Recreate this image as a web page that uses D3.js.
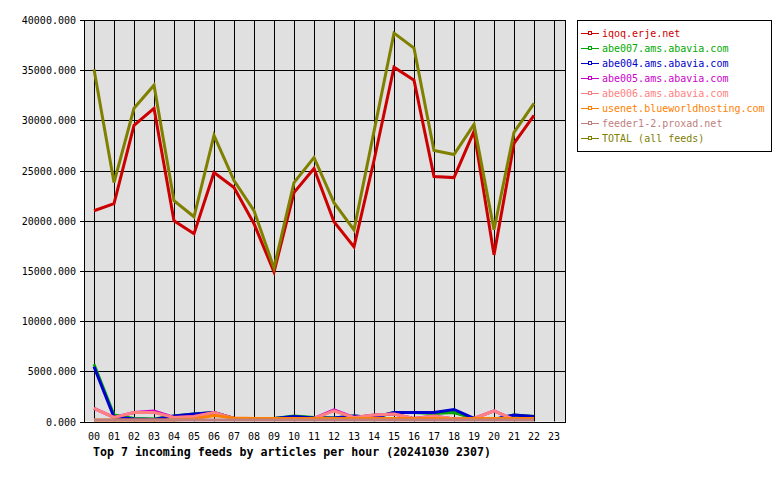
<!DOCTYPE html>
<html><head><meta charset="utf-8">
<script src="https://cdn.jsdelivr.net/npm/d3@7"></script>
<style>body{margin:0;background:#fff}svg{display:block}text{font-family:"DejaVu Sans Mono",monospace}</style>
</head><body><svg id="c" width="780" height="480"></svg>
<script>
const hours = ["00","01","02","03","04","05","06","07","08","09","10","11","12","13","14","15","16","17","18","19","20","21","22","23"];
const yTicks = [0,5000,10000,15000,20000,25000,30000,35000,40000];
const feedNames = ["iqoq.erje.net","abe007.ams.abavia.com","abe004.ams.abavia.com","abe005.ams.abavia.com","abe006.ams.abavia.com","usenet.blueworldhosting.com","feeder1-2.proxad.net","TOTAL (all feeds)"];
const feedColors = ["#cc0000","#00aa00","#0000cc","#cc00cc","#ff8080","#ff8000","#c08080","#808000"];
const iqoq   = [21000,21700,29500,31200,20000,18700,24800,23300,19700,14900,22800,25200,19900,17400,26000,35300,34000,24400,24300,28900,16600,27700,30500];
const abe007 = [5700,650,300,250,550,750,900,300,300,300,550,400,350,550,400,900,900,800,900,300,200,650,500];
const abe004 = [5450,450,250,200,550,750,900,300,300,300,500,350,350,550,400,900,900,900,1200,300,200,650,500];
const abe005 = [1300,400,900,1050,400,500,900,300,300,300,300,300,1150,400,650,750,300,550,250,300,1050,200,200];
const abe006 = [1300,400,900,900,400,500,900,300,300,300,300,300,1050,400,650,750,300,550,250,300,1050,200,200];
const usenet = [150,150,150,150,150,250,600,350,300,300,300,300,300,300,300,300,300,300,250,300,300,300,300];
const feeder = [150,150,150,150,150,150,150,150,150,150,150,150,150,150,150,150,150,150,150,150,150,150,150];
const total  = [35100,23800,31200,33500,22000,20400,28500,24000,21000,15300,23800,26300,21800,19100,28900,38700,37200,27000,26600,29600,19100,28800,31700];
const seriesValues = [iqoq,abe007,abe004,abe005,abe006,usenet,feeder,total];
const title = "Top 7 incoming feeds by articles per hour (20241030 2307)";

const svg = d3.select("#c");
const L=84,R=566,T=20,B=421.5;
const x = d3.scaleLinear().domain([-0.5,23.6]).range([L,R]);
const y = d3.scaleLinear().domain([0,40000]).range([B,T]);

svg.append("rect").attr("x",L).attr("y",T).attr("width",R-L).attr("height",B-T).attr("fill","#e0e0e0");

const g = svg.append("g");
g.selectAll(".hg").data(yTicks).join("line")
 .attr("x1",L-4).attr("x2",R).attr("y1",d=>Math.round(y(d))+0.5).attr("y2",d=>Math.round(y(d))+0.5)
 .attr("stroke","#000").attr("stroke-width",1);
g.selectAll(".vg").data(hours).join("line")
 .attr("x1",(d,i)=>Math.round(x(i))+0.5).attr("x2",(d,i)=>Math.round(x(i))+0.5).attr("y1",T).attr("y2",B)
 .attr("stroke","#000").attr("stroke-width",1);
svg.append("rect").attr("x",L+0.5).attr("y",T+0.5).attr("width",R-L-1).attr("height",Math.round(B-T)).attr("fill","none").attr("stroke","#000");

svg.selectAll(".yl").data(yTicks).join("text")
 .attr("x",76).attr("y",d=>y(d)+4).attr("text-anchor","end").attr("font-size",10).text(d=>d3.format(".3f")(d));
svg.selectAll(".xl").data(hours).join("text")
 .attr("x",(d,i)=>x(i)).attr("y",440).attr("text-anchor","middle").attr("font-size",10).text(d=>d);

svg.append("text").attr("x",93).attr("y",456).attr("font-size",11.6).attr("font-weight","bold").text(title);

const line = d3.line().x((d,i)=>x(i)).y(d=>y(d));
seriesValues.forEach((vals,k)=>{
  svg.append("path").attr("d",line(vals)).attr("fill","none").attr("stroke",feedColors[k]).attr("stroke-width",3).attr("stroke-linejoin","miter");
});

const lg = svg.append("g");
lg.append("rect").attr("x",577.5).attr("y",20.5).attr("width",194).attr("height",131).attr("fill","#fff").attr("stroke","#000");
feedNames.forEach((n,k)=>{
  const yy = 33 + k*15;
  lg.append("line").attr("x1",581).attr("x2",599).attr("y1",yy+0.5).attr("y2",yy+0.5).attr("stroke",feedColors[k]).attr("stroke-width",1);
  lg.append("rect").attr("x",588.5).attr("y",yy-1.5).attr("width",3).attr("height",3).attr("fill","#fff").attr("stroke",feedColors[k]).attr("stroke-width",1);
  lg.append("text").attr("x",602).attr("y",yy+4).attr("font-size",10).attr("fill",feedColors[k]).text(n);
});
</script></body></html>
